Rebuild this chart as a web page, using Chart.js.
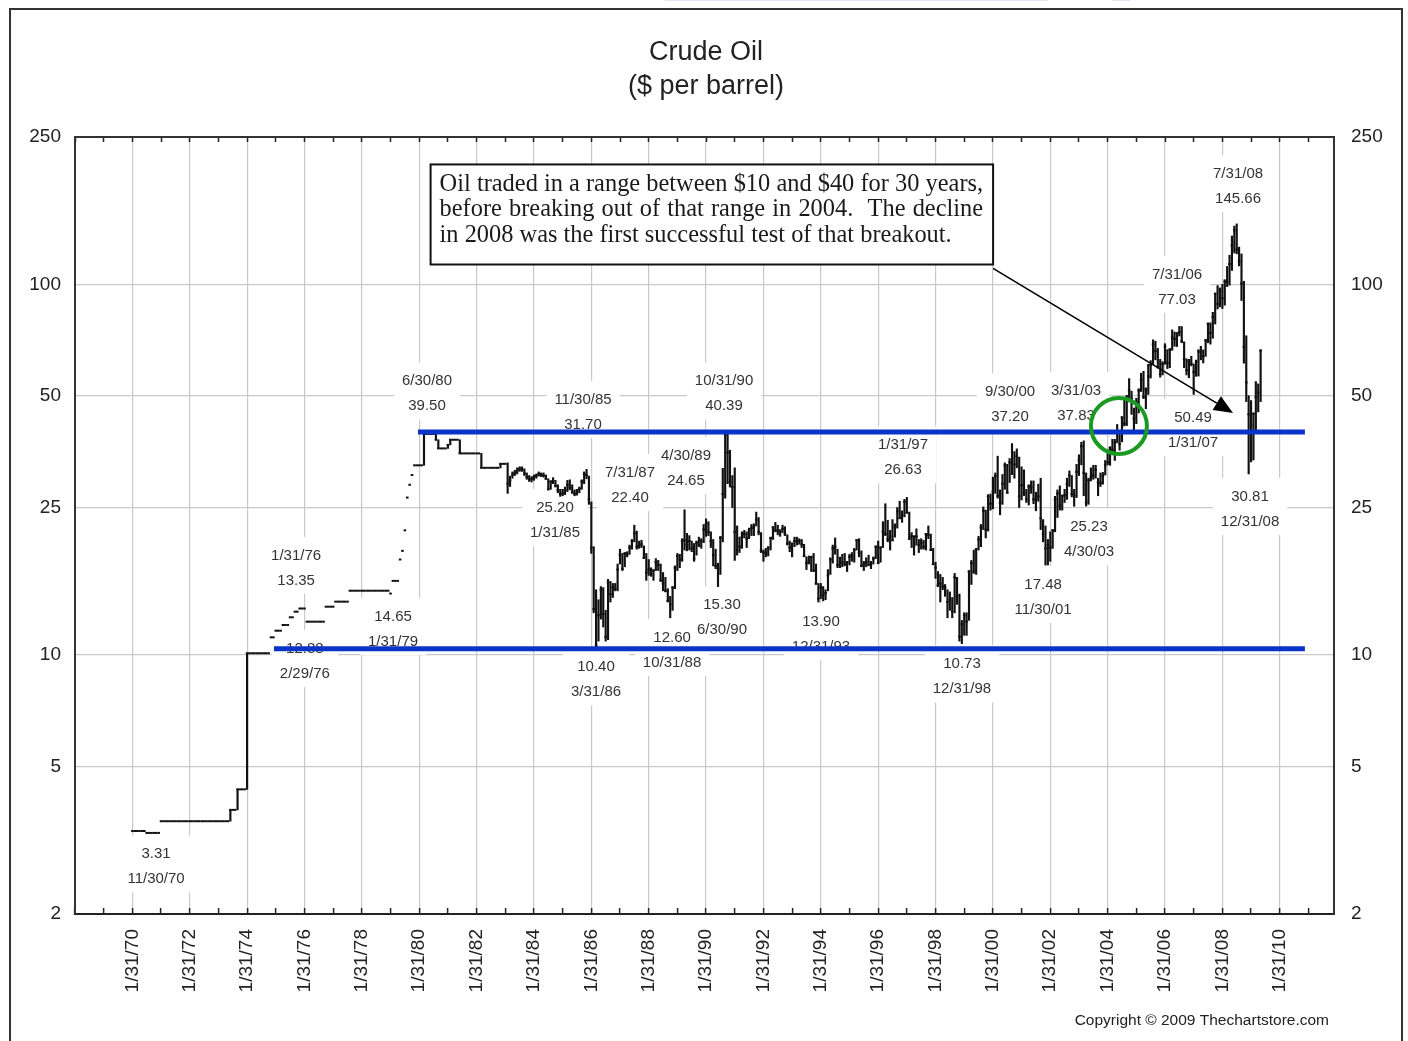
<!DOCTYPE html>
<html><head><meta charset="utf-8">
<script src="https://cdn.jsdelivr.net/npm/chart.js@4.4.1/dist/chart.umd.min.js"></script>
<style>html,body{margin:0;padding:0;background:#fff;}canvas{display:block;}</style>
</head><body>
<canvas id="c" width="1408" height="1041"></canvas>
<script>
// Monthly crude oil prices, Jan 1970 .. May 2009.
// A plain number = flat month (close only); [low, high, close] = monthly range bar.
const oil1970s = [
3.35,3.35,3.35,3.35,3.35,3.35,3.31,3.31,3.31,3.31,3.31,3.31,
3.56,3.56,3.56,3.56,3.56,3.56,3.56,3.56,3.56,3.56,3.56,3.56,
3.56,3.56,3.56,3.56,3.56,3.56,3.56,3.56,3.56,3.56,3.56,3.56,
3.56,3.56,3.56,3.56,3.56,[3.56,3.82,3.82],3.82,3.82,[3.82,4.34,4.34],4.34,4.34,4.34,
[4.34,10.11,10.11],10.11,10.11,10.11,10.11,10.11,10.11,10.11,10.11,10.11,11.16,11.16,
11.63,11.63,11.63,12.05,12.05,12.05,12.64,12.64,13.09,13.09,13.35,13.35,
13.35,12.30,12.30,12.30,12.30,12.30,12.30,12.30,12.30,13.50,13.50,13.50,
13.50,13.93,13.93,13.93,13.93,13.93,13.93,14.91,14.91,14.91,14.91,14.91,
14.91,14.91,14.91,14.91,14.91,14.91,14.91,14.91,14.91,14.91,14.91,14.91,
14.65,15.85,15.85,15.85,18.10,19.10,21.70,26.60,28.80,30.60,32.50,32.50
];
const oil1980s = [
32.5,32.5,[32.5,39.5,39.5],39.5,39.5,39.5,39.5,[38.1,39.5,38.1],[36.1,38.1,36.1],36.1,36.1,36.1,
[36.1,36.9,36.9],[36.9,38.1,38.1],38.1,38.1,38.1,[35.0,38.1,35.0],35.0,35.0,35.0,35.0,35.0,35.0,
35.0,35.0,[32.0,35.0,32.0],32.0,32.0,32.0,32.0,32.0,32.0,32.0,[32.0,32.8,32.8],32.8,
32.8,[27.3,33.0,29.0],[28.5,30.4,29.6],[30.0,31.2,30.7],[30.5,31.5,31.0],[30.8,32.0,31.5],[31.3,32.2,31.8],[31.3,32.2,31.6],[30.5,31.8,30.9],[29.8,31.0,30.2],[29.4,30.5,29.8],[29.3,30.3,29.9],
[29.6,30.6,30.2],[30.0,30.8,30.5],[30.4,31.2,30.8],[30.3,31.0,30.6],[30.2,31.0,30.5],[29.8,30.6,29.9],[27.9,29.9,28.0],[28.0,29.5,29.4],[29.0,30.1,29.5],[28.4,29.6,28.6],[27.4,28.8,27.9],[26.8,28.0,27.2],
[26.9,28.0,27.3],[27.1,28.4,27.9],[27.6,29.6,28.8],[27.9,29.7,28.3],[27.3,28.8,27.5],[26.9,27.9,27.2],[27.0,28.0,27.6],[27.4,28.4,28.1],[28.0,29.7,29.4],[29.0,31.2,30.8],[29.9,31.7,30.6],[25.5,30.4,26.3],
[18.8,25.9,19.5],[13.0,19.6,13.3],[10.4,15.0,10.6],[10.9,14.1,12.8],[12.5,15.3,15.0],[11.9,15.2,12.9],[10.9,13.2,11.2],[11.0,16.0,15.7],[13.9,15.8,14.6],[14.3,15.6,15.2],[14.9,15.6,15.1],[14.9,17.6,17.0],
[17.6,19.3,18.6],[16.9,18.8,17.1],[17.3,18.9,18.8],[18.4,19.0,18.7],[18.7,19.8,19.5],[19.3,20.5,20.3],[20.2,22.4,21.3],[19.3,21.6,19.6],[19.4,20.3,19.7],[19.5,20.4,19.9],[18.2,19.7,18.3],[15.9,18.8,16.7],
[16.4,18.1,17.0],[16.3,17.2,16.5],[15.9,17.0,16.9],[16.9,18.2,17.8],[16.9,18.0,17.5],[15.8,17.6,15.9],[14.9,16.7,15.6],[14.8,16.2,14.9],[13.9,15.1,14.0],[12.6,14.4,13.7],[13.2,15.3,15.2],[15.1,17.4,17.2],
[16.9,18.8,18.5],[17.2,18.7,18.1],[17.9,20.6,20.3],[19.2,24.65,20.4],[19.1,21.3,19.8],[19.2,21.0,20.3],[19.0,20.3,19.4],[17.9,20.0,18.2],[18.6,20.3,20.1],[19.6,20.8,19.8],[19.4,20.6,20.3],[20.1,22.5,21.8]
];
const oil1990s = [
[20.9,23.3,22.6],[21.0,22.9,21.5],[19.5,21.5,20.3],[17.4,20.5,18.6],[17.1,19.3,17.4],[15.3,17.7,17.1],[16.5,20.9,20.7],[20.2,31.9,27.2],[26.5,39.5,39.3],[29.0,40.39,35.2],[28.4,35.7,29.3],[25.0,30.5,28.4],
[18.0,32.0,21.5],[18.6,22.3,19.2],[18.9,20.8,19.6],[19.4,21.5,20.8],[20.7,21.7,21.2],[19.5,21.5,20.6],[20.6,22.0,21.7],[21.0,22.5,22.0],[21.0,22.6,22.2],[22.3,24.3,23.2],[21.1,23.5,21.5],[18.9,21.4,19.1],
[17.9,19.2,18.9],[18.4,19.4,18.8],[18.5,19.6,19.5],[19.2,20.8,20.7],[20.5,22.2,22.1],[21.5,22.8,21.7],[21.1,22.4,21.6],[20.9,21.8,21.5],[21.4,22.4,21.9],[21.0,22.2,21.2],[19.8,21.1,20.0],[19.0,20.3,19.5],
[18.4,20.0,20.0],[19.6,20.8,20.3],[19.8,20.8,20.3],[19.9,20.6,20.3],[19.5,20.5,19.9],[18.4,19.9,18.5],[17.0,18.4,17.7],[17.6,18.5,17.9],[16.8,18.4,18.4],[16.8,18.8,16.9],[15.5,17.6,15.6],[13.9,15.6,14.2],
[14.2,15.6,15.2],[14.0,15.3,14.5],[14.1,15.0,14.7],[14.9,17.0,16.4],[16.5,18.3,18.1],[17.7,19.8,19.4],[18.7,20.7,19.6],[17.2,19.3,17.5],[17.2,18.3,18.3],[17.3,18.7,17.8],[17.4,18.8,17.6],[16.8,17.9,17.8],
[17.5,18.7,18.4],[17.9,18.9,18.5],[17.8,19.4,19.2],[19.2,20.5,20.4],[18.4,20.6,18.9],[17.3,19.1,17.4],[16.9,17.9,17.6],[17.3,18.3,17.8],[17.5,18.6,17.5],[17.1,17.9,17.6],[17.6,18.4,18.2],[18.2,19.7,19.6],
[17.7,20.3,17.7],[17.8,19.6,19.5],[19.5,22.9,21.5],[21.0,25.6,21.2],[20.2,23.1,20.5],[19.2,21.7,20.9],[20.4,23.2,20.4],[20.8,22.6,22.2],[22.0,25.0,24.4],[23.4,26.0,23.4],[22.8,24.5,23.8],[23.6,26.3,25.9],
[24.2,26.63,24.2],[20.5,24.3,20.6],[19.5,21.4,20.9],[18.6,21.0,19.7],[19.8,21.9,20.9],[18.9,20.5,19.8],[19.3,20.6,20.1],[19.3,20.4,19.6],[19.2,21.3,21.2],[20.6,22.3,21.1],[19.2,21.2,19.2],[17.5,19.4,17.6],
[16.1,17.8,17.2],[15.3,16.8,15.4],[13.9,16.5,15.6],[15.0,16.2,15.3],[14.4,15.5,15.2],[12.6,15.0,13.9],[13.2,14.8,14.1],[12.6,14.3,13.1],[13.0,16.6,16.2],[13.7,16.2,14.4],[10.9,14.6,11.2],[10.73,12.4,12.1],
[11.3,13.0,12.8],[11.3,13.0,12.3],[12.4,16.9,16.8],[15.5,18.0,17.7],[16.6,19.2,16.8],[16.5,19.4,19.3],[19.2,20.9,20.5],[19.6,22.5,22.1],[21.8,25.1,24.5],[20.7,24.6,21.8],[21.6,27.1,26.8],[24.6,27.2,25.6]
];
const oil2000s = [
[24.8,30.2,27.6],[27.3,31.0,30.4],[26.5,34.4,26.9],[23.9,27.9,25.7],[25.5,30.7,29.0],[28.0,33.0,32.5],[27.4,32.7,27.4],[29.2,33.9,33.1],[30.8,37.2,30.8],[30.0,35.4,32.7],[32.0,36.0,34.4],[25.0,34.2,26.8],
[26.2,32.2,28.7],[26.9,31.6,27.4],[25.8,28.0,26.3],[25.4,28.8,28.5],[27.3,29.5,28.4],[25.6,29.5,26.3],[24.5,27.5,26.4],[26.0,28.9,26.8],[21.8,30.0,23.4],[20.2,23.2,21.2],[17.48,22.3,19.4],[17.5,20.5,19.8],
[17.9,21.5,19.5],[19.4,21.8,21.7],[21.5,26.8,26.3],[23.5,27.9,27.3],[24.6,28.6,25.3],[24.6,27.0,26.9],[25.8,28.0,27.0],[26.3,30.0,28.9],[28.5,31.4,30.5],[26.7,30.5,27.2],[25.2,28.0,26.9],[26.6,32.7,31.2],
[30.5,34.7,33.5],[32.6,37.5,36.6],[26.9,37.83,31.0],[25.23,31.0,25.8],[25.5,30.0,29.6],[29.5,32.0,30.2],[29.8,32.5,30.5],[30.0,32.5,31.6],[26.9,30.0,29.2],[28.5,31.0,29.1],[28.9,31.1,30.4],[30.6,33.5,32.5],
[32.6,35.8,33.1],[32.5,36.5,36.2],[35.2,38.2,35.8],[33.5,38.2,37.4],[37.4,41.9,39.9],[35.7,40.0,37.1],[37.6,43.9,43.8],[41.5,49.4,42.1],[41.6,50.2,49.6],[48.2,55.7,51.8],[44.6,51.5,49.1],[40.3,46.4,43.5],
[42.1,49.3,48.2],[45.0,52.3,51.8],[51.4,57.6,55.4],[49.2,58.3,49.7],[46.2,52.6,52.0],[50.5,60.9,56.5],[55.9,62.3,60.6],[60.7,70.9,68.9],[62.6,70.3,66.2],[59.5,67.2,59.8],[56.2,62.8,57.3],[57.0,61.9,61.0],
[60.9,69.2,67.9],[59.3,66.7,61.4],[59.6,67.2,66.6],[66.4,75.4,71.9],[68.1,74.4,71.3],[68.0,73.9,73.9],[72.6,77.03,74.4],[69.6,77.0,70.3],[59.6,70.0,62.9],[57.0,63.0,58.7],[56.0,62.8,62.1],[60.3,64.0,61.1],
[50.49,61.0,58.1],[56.5,62.5,61.8],[56.6,66.7,65.9],[62.6,68.1,65.7],[61.4,66.6,64.0],[64.0,71.0,70.7],[69.6,78.8,78.2],[69.0,78.8,74.0],[71.6,84.1,81.7],[78.2,94.5,94.5],[85.9,99.3,88.7],[87.0,97.9,96.0],
[86.1,100.1,91.8],[87.9,103.0,101.8],[98.7,111.8,101.6],[99.6,119.9,113.5],[109.1,135.1,127.4],[121.6,143.7,140.0],[121.0,145.66,124.1],[112.2,126.1,115.5],[90.5,120.9,100.6],[61.3,102.0,67.8],[48.3,72.7,54.4],[30.81,50.1,44.6],
[33.2,48.6,41.7],[33.6,45.0,44.8],[40.2,54.7,49.7],[45.3,53.9,51.1],[48.3,66.6,66.3]
];
const firstYear = 1970;

// Axis ticks
const yTicks = [2, 5, 10, 25, 50, 100, 250];
const tickYears = [1968,1969,1970,1971,1972,1973,1974,1975,1976,1977,1978,1979,1980,1981,1982,1983,1984,1985,1986,1987,1988,1989,1990,1991,1992,1993,1994,1995,1996,1997,1998,1999,2000,2001,2002,2003,2004,2005,2006,2007,2008,2009,2010,2011];
const labelYears = [1970,1972,1974,1976,1978,1980,1982,1984,1986,1988,1990,1992,1994,1996,1998,2000,2002,2004,2006,2008,2010];

// Callout labels (anchor date, anchor price, two text lines)
const calloutDates  = [1970.909,1975.79,1976.096,1979.171,1980.356,1985.794,1984.818,1987.433,1989.385,1990.71,1986.248,1988.898,1990.638,1994.09,1996.948,1999.005,2000.681,2002.982,2003.435,2001.832,2006.503,2007.061,2008.63,2009.048];
const calloutValues = [2.687,17.18,9.64,11.75,50.8,45.3,23.14,28.77,31.98,50.8,8.59,10.32,12.63,11.39,34.14,8.75,47.44,47.88,20.5,14.34,98.5,40.5,183.9,24.78];
const calloutTop    = ["3.31","1/31/76","12.88","14.65","6/30/80","11/30/85","25.20","7/31/87","4/30/89","10/31/90","10.40","12.60","15.30","13.90","1/31/97","10.73","9/30/00","3/31/03","25.23","17.48","7/31/06","50.49","7/31/08","30.81"];
const calloutBottom = ["11/30/70","13.35","2/29/76","1/31/79","39.50","31.70","1/31/85","22.40","24.65","40.39","3/31/86","10/31/88","6/30/90","12/31/93","26.63","12/31/98","37.20","37.83","4/30/03","11/30/01","77.03","1/31/07","145.66","12/31/08"];

// Trading range lines
const rangeLevels = [40, 10.4];
const rangeStarts = [1980.04, 1975.02];
const rangeEnd = 2010.96;

// Note box, arrow and breakout circle (date, price)
const noteLines = ["Oil traded in a range between $10 and $40 for 30 years,","before breaking out of that range in 2004.  The decline","in 2008 was the first successful test of that breakout."];
const noteBox = [1980.48, 210.8, 2000.09, 113.2];
const arrowFrom = [2000.09, 110.5];
const arrowTo = [2008.455, 45.0];
const breakout = [2004.477, 41.5];

// ---- build datasets ----
const allMonths = [].concat(oil1970s, oil1980s, oil1990s, oil2000s);
const barData = [], closeData = [];
allMonths.forEach((m, i) => {
  const t = firstYear + (i + 1) / 12;
  if (Array.isArray(m)) { barData.push({x: t, y: [m[0], m[1]]}); closeData.push({x: t, y: m[2]}); }
  else closeData.push({x: t, y: m});
});

const SANS = "'Liberation Sans', Arial, sans-serif";
const xMin = 1968 + 1/12, xMax = 2011.975;
const setXTicks = s => { s.ticks = tickYears.map(y => ({value: y + 1/12})); };
const setYTicks = s => { s.ticks = yTicks.map(v => ({value: v})); };
const yearOf = v => Math.round(v - 1/12);

const decor = {
  id: 'decor',
  beforeDatasetsDraw(chart) {
    const {ctx, scales: {x, y}} = chart;
    ctx.save();
    ctx.font = '15px ' + SANS;
    ctx.textAlign = 'center'; ctx.textBaseline = 'middle';
    calloutDates.forEach((d, i) => {
      const cx = x.getPixelForValue(d), cy = y.getPixelForValue(calloutValues[i]);
      const w = Math.max(ctx.measureText(calloutTop[i]).width, ctx.measureText(calloutBottom[i]).width) + 16;
      ctx.fillStyle = '#fff';
      ctx.fillRect(cx - w / 2, cy - 31, w, 57);
    });
    calloutDates.forEach((d, i) => {
      const cx = x.getPixelForValue(d), cy = y.getPixelForValue(calloutValues[i]);
      ctx.fillStyle = '#333';
      ctx.fillText(calloutTop[i], cx, cy - 12.5);
      ctx.fillText(calloutBottom[i], cx, cy + 12.5);
    });
    ctx.restore();
  },
  afterDatasetsDraw(chart) {
    const {ctx, scales: {x, y}} = chart;
    ctx.save();
    // range lines
    ctx.strokeStyle = '#0a34c8'; ctx.lineWidth = 5;
    rangeLevels.forEach((lv, i) => {
      const py = y.getPixelForValue(lv);
      ctx.beginPath();
      ctx.moveTo(x.getPixelForValue(rangeStarts[i]), py);
      ctx.lineTo(x.getPixelForValue(rangeEnd), py);
      ctx.stroke();
    });
    // note box
    const bx1 = x.getPixelForValue(noteBox[0]), by1 = y.getPixelForValue(noteBox[1]);
    const bx2 = x.getPixelForValue(noteBox[2]), by2 = y.getPixelForValue(noteBox[3]);
    ctx.fillStyle = '#fff';
    ctx.fillRect(bx1, by1, bx2 - bx1, by2 - by1);
    ctx.strokeStyle = '#111'; ctx.lineWidth = 2;
    ctx.strokeRect(bx1, by1, bx2 - bx1, by2 - by1);
    const textW = (bx2 - bx1) - 19;
    ctx.font = '20px "Liberation Serif", "Times New Roman", serif';
    const w0 = ctx.measureText(noteLines[0]).width;
    const fs = 20 * textW / w0;
    ctx.font = fs.toFixed(2) + 'px "Liberation Serif", "Times New Roman", serif';
    ctx.fillStyle = '#1a1a1a'; ctx.textAlign = 'left'; ctx.textBaseline = 'middle';
    noteLines.forEach((line, i) => {
      const ty = by1 + 20 + i * 25.5;
      const tx = bx1 + 9;
      if (i < 2) {
        const words = line.split(' ');
        const sp = ctx.measureText(' ').width;
        const natural = ctx.measureText(line).width;
        const extra = (textW - natural) / (words.length - 1);
        let cx = tx;
        words.forEach(wd => { ctx.fillText(wd, cx, ty); cx += ctx.measureText(wd).width + sp + extra; });
      } else {
        ctx.fillText(line, tx, ty);
      }
    });
    // arrow
    const ax1 = x.getPixelForValue(arrowFrom[0]), ay1 = y.getPixelForValue(arrowFrom[1]);
    const ax2 = x.getPixelForValue(arrowTo[0]), ay2 = y.getPixelForValue(arrowTo[1]);
    const ang = Math.atan2(ay2 - ay1, ax2 - ax1);
    const L = 19, H = 8;
    ctx.strokeStyle = '#000'; ctx.lineWidth = 1.6;
    ctx.beginPath(); ctx.moveTo(ax1, ay1);
    ctx.lineTo(ax2 - L * Math.cos(ang), ay2 - L * Math.sin(ang)); ctx.stroke();
    ctx.fillStyle = '#000';
    ctx.beginPath();
    ctx.moveTo(ax2, ay2);
    ctx.lineTo(ax2 - L * Math.cos(ang) + H * Math.sin(ang), ay2 - L * Math.sin(ang) - H * Math.cos(ang));
    ctx.lineTo(ax2 - L * Math.cos(ang) - H * Math.sin(ang), ay2 - L * Math.sin(ang) + H * Math.cos(ang));
    ctx.closePath(); ctx.fill();
    // breakout circle
    ctx.strokeStyle = '#1a9a22'; ctx.lineWidth = 4;
    ctx.beginPath();
    ctx.arc(x.getPixelForValue(breakout[0]), y.getPixelForValue(breakout[1]), 28, 0, Math.PI * 2);
    ctx.stroke();
    ctx.restore();
  },
  afterDraw(chart) {
    const {ctx} = chart;
    ctx.save();
    ctx.fillStyle = '#222';
    ctx.textAlign = 'center'; ctx.textBaseline = 'middle';
    ctx.font = '27px ' + SANS;
    ctx.fillText('Crude Oil', 706, 53);
    ctx.fillText('($ per barrel)', 706, 87);
    ctx.font = '15.5px ' + SANS;
    ctx.textAlign = 'right';
    ctx.fillText('Copyright \u00A9 2009 Thechartstore.com', 1329, 1021);
    // outer frame
    ctx.strokeStyle = '#333'; ctx.lineWidth = 2;
    ctx.beginPath();
    ctx.moveTo(10, 1045); ctx.lineTo(10, 9); ctx.lineTo(1402, 9); ctx.lineTo(1402, 1045);
    ctx.stroke();
    // faint edge of the page above
    ctx.strokeStyle = '#dce8f6'; ctx.lineWidth = 1;
    ctx.beginPath();
    ctx.moveTo(665, 0.5); ctx.lineTo(1048, 0.5);
    ctx.moveTo(1112, 0.5); ctx.lineTo(1131, 0.5);
    ctx.stroke();
    ctx.restore();
  }
};

new Chart(document.getElementById('c'), {
  type: 'bar',
  data: {
    datasets: [
      { type: 'bar', data: barData, backgroundColor: '#111', borderWidth: 0, barThickness: 1.5, grouped: false, xAxisID: 'x', yAxisID: 'y', order: 2 },
      { type: 'line', data: closeData, showLine: false, pointStyle: 'line', pointRadius: 1.3, pointBorderWidth: 2,
        borderColor: '#111', pointBorderColor: '#111', backgroundColor: '#111', xAxisID: 'x', yAxisID: 'y', order: 1 }
    ]
  },
  options: {
    responsive: false, animation: false, events: [],
    layout: { padding: { top: 137, left: 0, right: 0, bottom: 0 } },
    plugins: { legend: { display: false }, tooltip: { enabled: false }, title: { display: false } },
    scales: {
      x: {
        type: 'linear', position: 'bottom', min: xMin, max: xMax, offset: false,
        afterBuildTicks: setXTicks,
        afterFit: s => { s.height = 127; },
        grid: {
          offset: false, drawTicks: true, tickLength: -6, tickColor: '#222', tickWidth: 1.5, lineWidth: 1.2,
          color: c => (c.tick && labelYears.includes(yearOf(c.tick.value))) ? '#c9c9c9' : 'rgba(0,0,0,0)'
        },
        border: { display: true, color: '#222', width: 2 },
        ticks: {
          autoSkip: false, minRotation: 90, maxRotation: 90, padding: 21, color: '#222',
          font: { family: SANS, size: 19 },
          callback: v => { const yr = yearOf(v); return labelYears.includes(yr) ? '1/31/' + String(yr).slice(2) : ''; }
        }
      },
      x2: {
        type: 'linear', position: 'top', min: xMin, max: xMax, offset: false,
        afterBuildTicks: setXTicks,
        afterFit: s => { s.height = 0; },
        grid: { offset: false, drawOnChartArea: false, drawTicks: true, tickLength: -5, tickColor: '#222', tickWidth: 1.5 },
        border: { display: true, color: '#333', width: 2 },
        ticks: { autoSkip: false, maxRotation: 0, callback: () => '' }
      },
      y: {
        type: 'logarithmic', position: 'left', min: 2, max: 250,
        afterBuildTicks: setYTicks,
        afterFit: s => { s.width = 75; },
        grid: { drawTicks: false, lineWidth: 1.2,
          color: c => (c.tick && (c.tick.value === 2 || c.tick.value === 250)) ? 'rgba(0,0,0,0)' : '#c9c9c9' },
        border: { display: true, color: '#333', width: 2 },
        ticks: { padding: 14, color: '#222', font: { family: SANS, size: 19 }, callback: v => String(v) }
      },
      y2: {
        type: 'logarithmic', position: 'right', min: 2, max: 250,
        afterBuildTicks: setYTicks,
        afterFit: s => { s.width = 74; },
        grid: { drawOnChartArea: false, drawTicks: false },
        border: { display: true, color: '#333', width: 2 },
        ticks: { padding: 17, color: '#222', font: { family: SANS, size: 19 }, callback: v => String(v) }
      }
    }
  },
  plugins: [decor]
});
</script>
</body></html>
